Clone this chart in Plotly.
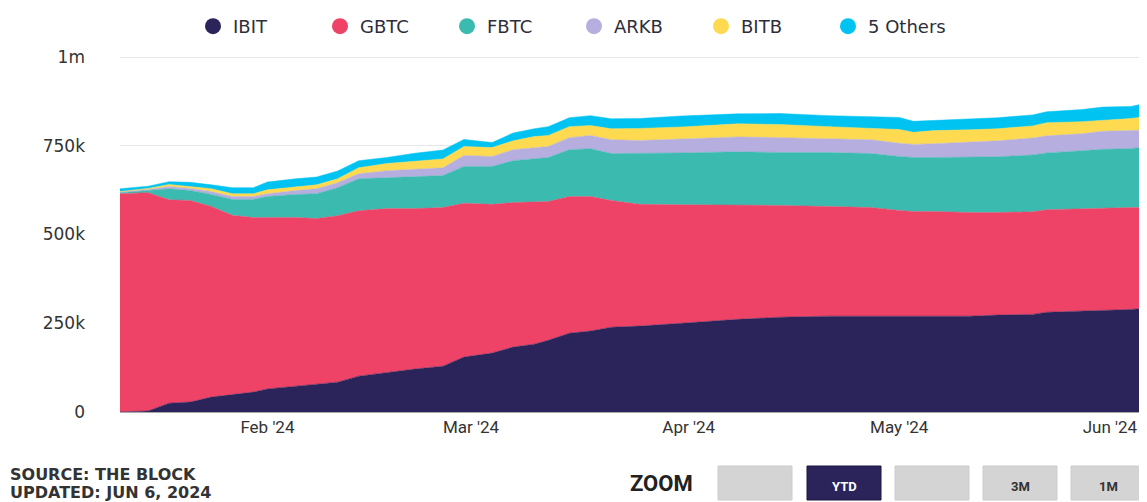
import plotly.graph_objects as go

# ---- data (thousands of BTC held) ----
dates = ["2024-01-11", "2024-01-15", "2024-01-18", "2024-01-21", "2024-01-24", "2024-01-27",
         "2024-01-30", "2024-02-01", "2024-02-05", "2024-02-08", "2024-02-11", "2024-02-14",
         "2024-02-18", "2024-02-22", "2024-02-26", "2024-02-29", "2024-03-04", "2024-03-07",
         "2024-03-10", "2024-03-12", "2024-03-15", "2024-03-18", "2024-03-21", "2024-03-25",
         "2024-03-31", "2024-04-08", "2024-04-14", "2024-04-21", "2024-04-27", "2024-05-01",
         "2024-05-03", "2024-05-06", "2024-05-11", "2024-05-15", "2024-05-20", "2024-05-22",
         "2024-05-27", "2024-05-30", "2024-06-03", "2024-06-05"]

ibit = [0, 3, 25, 28, 42, 48, 56, 65, 73, 79, 84, 101, 112, 121, 129, 155, 166, 183, 191, 202,
        222, 228, 239, 242, 250, 261, 267, 270, 270, 270, 270, 270, 270, 273, 275, 281, 284, 287,
        289, 292]
gbtc = [615, 615, 573, 568, 537, 506, 492, 483, 475, 466, 469, 466, 461, 452, 447, 433, 419, 407,
        402, 391, 385, 379, 357, 343, 334, 323, 315, 309, 306, 298, 295, 295, 292, 289, 289, 289,
        289, 287, 287, 284]
fbtc = [3, 6, 31, 28, 34, 45, 51, 59, 65, 70, 79, 90, 87, 90, 90, 104, 107, 118, 121, 124, 132,
        135, 132, 143, 146, 149, 149, 152, 152, 152, 152, 152, 157, 157, 160, 160, 163, 166, 166,
        171]
arkb = [1.5, 3, 6, 6, 8, 8, 8, 8, 11, 14, 14, 14, 20, 22, 22, 31, 28, 31, 31, 31, 34, 37, 39, 37,
        39, 42, 42, 39, 39, 37, 37, 39, 42, 45, 48, 48, 48, 51, 51, 48]
bitb = [1.5, 3, 6, 6, 8, 8, 8, 11, 11, 11, 11, 17, 20, 22, 25, 25, 25, 25, 31, 31, 31, 28, 31, 34,
        34, 37, 37, 34, 31, 39, 34, 37, 34, 34, 34, 37, 34, 31, 34, 37]
others = [8, 6, 8, 11, 11, 17, 17, 22, 22, 22, 22, 20, 17, 22, 25, 20, 14, 22, 22, 25, 25, 28, 28,
          28, 31, 28, 31, 31, 34, 34, 31, 28, 31, 31, 31, 31, 34, 37, 34, 37]

series_names = ["IBIT", "GBTC", "FBTC", "ARKB", "BITB", "5 Others"]
series_vals = [ibit, gbtc, fbtc, arkb, bitb, others]
colors = ["#2b245b", "#ee4266", "#3bbbb0", "#b5aede", "#fdda4f", "#00c3f1"]

# last label nudged inward (as in the source chart) so it stays inside the frame
tick_vals = ["2024-02-01", "2024-03-01", "2024-04-01", "2024-05-01", "2024-05-31"]
tick_text = ["Feb '24", "Mar '24", "Apr '24", "May '24", "Jun '24"]

y_ticks = [0, 250000, 500000, 750000, 1000000]
y_text = ["0", "250k", "500k", "750k", "1m"]

zoom_buttons = ["", "YTD", "", "3M", "1M"]

# ---- figure geometry (page body has an 8px margin) ----
OFF = 8
W, H = 1147 - OFF, 502 - OFF
L, R, T = 120 - OFF, 2, 56 - OFF
B = H - (412 - OFF)
PW, PH = W - L - R, H - T - B


def px(xp):  # page x -> paper x
    return (xp - OFF - L) / PW


def py(yp):  # page y -> paper y
    return (H - B - (yp - OFF)) / PH


fig = go.Figure()
for name, vals, col in zip(series_names, series_vals, colors):
    fig.add_trace(go.Scatter(
        x=dates, y=[v * 1000 for v in vals], name=name, mode="lines",
        stackgroup="one", line=dict(width=0.5, color=col), fillcolor=col,
        showlegend=False, hoverinfo="x+y+name"))
for name, col in zip(series_names, colors):
    fig.add_trace(go.Scatter(
        x=[None], y=[None], name=name, mode="markers",
        marker=dict(symbol="circle", size=20, color=col), showlegend=True))

fig.update_layout(
    width=W, height=H,
    margin=dict(l=L, r=R, t=T, b=B),
    paper_bgcolor="white", plot_bgcolor="white",
    showlegend=True,
    legend=dict(orientation="h", xref="container", yref="container",
                x=(574 - OFF) / W, xanchor="center", y=1.0, yanchor="top",
                traceorder="normal",
                font=dict(family="DejaVu Sans", size=18, color="#2e2e38"),
                itemclick=False, entrywidth=82, entrywidthmode="pixels"),
    xaxis=dict(type="date", range=["2024-01-11", "2024-06-05"],
               tickvals=tick_vals, ticktext=tick_text, showgrid=False,
               showline=True, linecolor="#a8a8a8", linewidth=1, ticks="",
               tickfont=dict(family="Roboto", size=17, color="#333"),
               zeroline=False),
    yaxis=dict(range=[0, 1003000], tickvals=y_ticks, ticktext=y_text,
               showgrid=True, gridcolor="#e6e6e6", gridwidth=1, zeroline=False,
               ticklabelstandoff=34,
               tickfont=dict(family="DejaVu Sans", size=17, color="#333")),
)

ann = []
ann.append(dict(text="<b>SOURCE: THE BLOCK</b>", x=px(8), y=py(474), xref="paper", yref="paper",
                xanchor="left", yanchor="middle", showarrow=False,
                font=dict(family="DejaVu Sans", size=16, color="#333")))
ann.append(dict(text="<b>UPDATED: JUN 6, 2024</b>", x=px(8), y=py(492), xref="paper", yref="paper",
                xanchor="left", yanchor="middle", showarrow=False,
                font=dict(family="DejaVu Sans", size=16, color="#333")))
ann.append(dict(text="<b>ZOOM</b>", x=px(661), y=py(483), xref="paper", yref="paper",
                xanchor="center", yanchor="middle", showarrow=False,
                font=dict(family="Roboto", size=22, color="#222")))

shapes = []
btn_x0 = [718, 807, 895, 983, 1071]
for x0, label in zip(btn_x0, zoom_buttons):
    active = label == "YTD"
    shapes.append(dict(type="rect", xref="paper", yref="paper",
                       x0=px(x0), x1=px(x0 + 74), y0=py(500), y1=py(466),
                       fillcolor="#2b245b" if active else "#d4d4d4",
                       line=dict(color="#1a1640" if active else "#cccccc", width=1)))
    if label:
        ann.append(dict(text="<b>%s</b>" % label, x=px(x0 + 37), y=py(486),
                        xref="paper", yref="paper", xanchor="center", yanchor="middle",
                        showarrow=False,
                        font=dict(family="Roboto", size=13,
                                  color="white" if active else "#333")))

fig.update_layout(annotations=ann, shapes=shapes)
fig.write_html("out.html")
